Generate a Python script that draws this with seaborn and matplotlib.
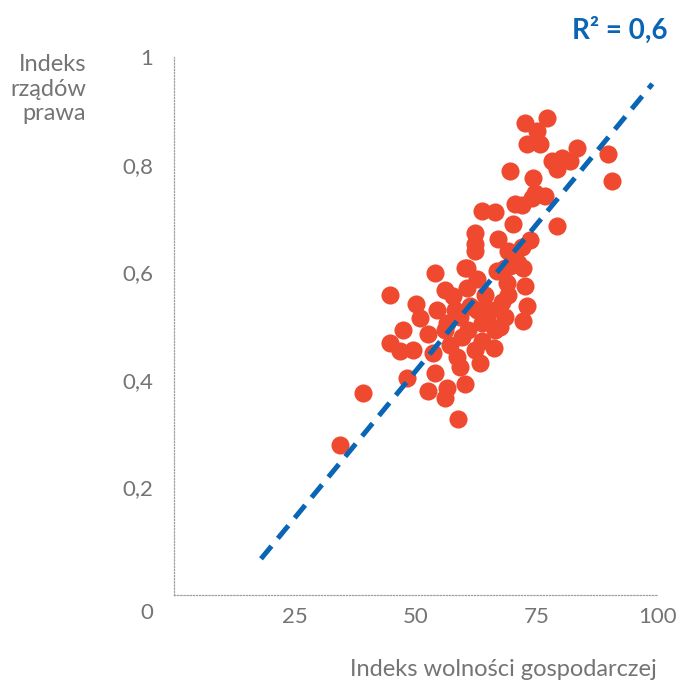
import numpy as np
import pandas as pd
import matplotlib
matplotlib.use("Agg")
import matplotlib.pyplot as plt
import matplotlib.transforms as mtransforms
import seaborn as sns

# Indeks wolności gospodarczej (x) vs indeks rządów prawa (y)
freedom = [34.4, 39.1, 44.7, 44.7, 46.8, 47.4, 48.2, 49.5, 50.1, 52.6,
           53.6, 52.6, 54.0, 54.0, 54.5, 56.5, 56.1, 58.8, 57.8, 59.2,
           59.6, 58.6, 59.2, 60.2, 60.2, 62.3, 60.7, 62.7, 63.8, 62.7,
           61.3, 63.8, 63.4, 62.3, 66.3, 64.8, 66.5, 67.5, 65.4, 66.9,
           67.9, 68.5, 69.2, 69.6, 68.9, 72.3, 72.7, 73.1, 72.3, 68.5,
           71.2, 69.2, 72.0, 67.1, 62.3, 62.3, 63.8, 66.5, 70.2, 70.6,
           74.1, 73.7, 79.3, 69.6, 74.3, 74.7, 76.8, 72.7, 77.2, 73.1,
           75.8, 75.2, 78.3, 80.3, 82.0, 79.3, 83.4, 89.9, 90.7, 72.0,
           60.7, 56.1, 57.1, 58.2, 56.1, 50.9, 56.5, 60.9, 64.4]
rule_of_law = [0.278, 0.375, 0.557, 0.468, 0.453, 0.492, 0.404, 0.455, 0.540, 0.486,
               0.449, 0.380, 0.599, 0.412, 0.529, 0.384, 0.367, 0.328, 0.555, 0.516,
               0.479, 0.442, 0.423, 0.393, 0.607, 0.640, 0.571, 0.588, 0.505, 0.529,
               0.538, 0.473, 0.432, 0.455, 0.460, 0.516, 0.492, 0.499, 0.529, 0.603,
               0.544, 0.516, 0.557, 0.612, 0.579, 0.607, 0.575, 0.538, 0.510, 0.607,
               0.618, 0.640, 0.646, 0.662, 0.673, 0.653, 0.714, 0.711, 0.690, 0.727,
               0.737, 0.659, 0.686, 0.788, 0.776, 0.748, 0.742, 0.878, 0.887, 0.839,
               0.839, 0.863, 0.807, 0.813, 0.807, 0.792, 0.831, 0.820, 0.770, 0.724,
               0.607, 0.492, 0.464, 0.529, 0.566, 0.514, 0.506, 0.492, 0.557]

# linia trendu
trend_x = np.array([18.0, 99.0])
trend_slope = 0.0109
trend_intercept = -0.129
r2_label = "R² = 0,6"

x_ticks = [25, 50, 75, 100]
x_labels = ["25", "50", "75", "100"]
y_ticks = [0, 0.2, 0.4, 0.6, 0.8, 1.0]
y_labels = ["0", "0,2", "0,4", "0,6", "0,8", "1"]

df = pd.DataFrame({"freedom": freedom, "rule_of_law": rule_of_law})

sns.set_theme(style="white")
plt.rcParams["font.family"] = ["Lato", "DejaVu Sans"]

grey = "#747474"
red = "#ef4930"
blue = "#0a66b5"

fig = plt.figure(figsize=(6.87, 6.82), dpi=100)
ax = fig.add_axes([0.2533, 0.1276, 0.7033, 0.7888])

sns.scatterplot(data=df, x="freedom", y="rule_of_law", ax=ax,
                color=red, s=170, linewidth=0, alpha=1, zorder=2)

ax.plot(trend_x, trend_intercept + trend_slope * trend_x, color=blue,
        linewidth=3.6, dashes=(3.3, 2.0), dash_capstyle="butt", zorder=3)

ax.set_xlim(0, 100)
ax.set_ylim(0, 1)
ax.set_xticks(x_ticks)
ax.set_xticklabels(x_labels)
ax.set_yticks(y_ticks)
ax.set_yticklabels(y_labels)
ax.set_xlabel("")
ax.set_ylabel("")

for side in ["top", "right"]:
    ax.spines[side].set_visible(False)
for side in ["left", "bottom"]:
    ax.spines[side].set_color("#a0a0a0")
    ax.spines[side].set_linestyle((0, (1, 1.5)))
    ax.spines[side].set_linewidth(0.9)

ax.tick_params(axis="both", which="major", direction="out", length=5, width=0.9,
               color="#a0a0a0", labelsize=16, labelcolor=grey)
ax.tick_params(axis="x", pad=4)
ax.tick_params(axis="y", pad=10)
for t in ax.xaxis.get_ticklines() + ax.yaxis.get_ticklines():
    t.set_linestyle((0, (1, 1.5)))

# etykieta "0" na osi Y jest w oryginale nieco niżej
zero_lbl = ax.get_yticklabels()[0]
zero_lbl.set_transform(zero_lbl.get_transform() +
                       mtransforms.ScaledTranslation(0, -16 / 100, fig.dpi_scale_trans))

fig.text(86 / 687, 1 - 89 / 682, "Indeks\nrządów\nprawa", ha="right", va="center",
         fontsize=17, color=grey, linespacing=1.2, multialignment="right")
fig.text(657 / 687, 1 - 669 / 682, "Indeks wolności gospodarczej", ha="right",
         va="center", fontsize=17, color=grey)
fig.text(668 / 687, 1 - 30 / 682, r2_label, ha="right", va="center",
         fontsize=20, fontweight="bold", color=blue)

fig.savefig("out.png", dpi=100)
